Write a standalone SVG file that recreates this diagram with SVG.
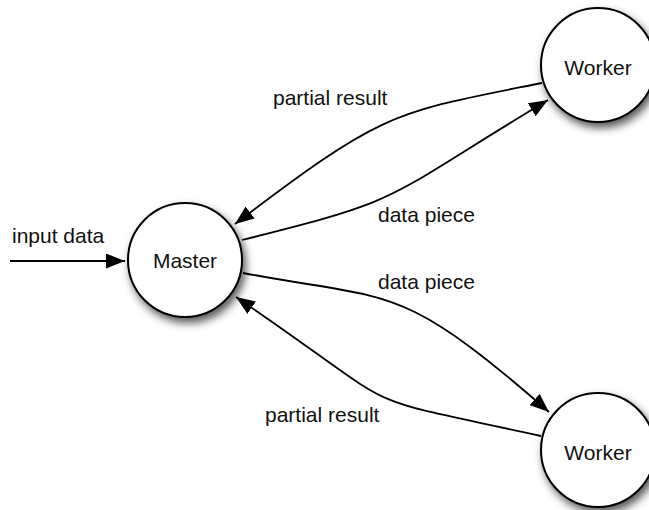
<svg xmlns="http://www.w3.org/2000/svg" width="649" height="510" viewBox="0 0 649 510">
  <style>
    .node circle { fill: #ffffff; stroke: #000000; stroke-width: 2; filter: url(#shadow); }
    .label { font-family: "Liberation Sans", Arial, Helvetica, sans-serif; font-size: 21px; fill: #111111; }
    .center { text-anchor: middle; }
    .edge { fill: none; stroke: #000000; stroke-width: 1.8; marker-end: url(#arrow); }
  </style>
  <defs>
    <filter id="shadow" x="-30%" y="-30%" width="170%" height="170%">
      <feDropShadow dx="3" dy="5" stdDeviation="4" flood-color="#000000" flood-opacity="0.65"/>
    </filter>
    <marker id="arrow" markerUnits="userSpaceOnUse" markerWidth="19" markerHeight="15" refX="19" refY="7.5" orient="auto">
      <path d="M0,0 L19,7.5 L0,15 z" fill="#000000"/>
    </marker>
  </defs>

  <!-- nodes -->
  <g id="master" class="node">
    <circle cx="185" cy="260" r="57"/>
    <text class="label center" x="185" y="268">Master</text>
  </g>
  <g id="worker-top" class="node">
    <circle cx="598" cy="65" r="57"/>
    <text class="label center" x="598" y="75">Worker</text>
  </g>
  <g id="worker-bottom" class="node">
    <circle cx="598" cy="450" r="57"/>
    <text class="label center" x="598" y="460">Worker</text>
  </g>

  <!-- connectors -->
  <g id="connectors">
    <path id="edge-input" class="edge" d="M10,261 L125,261"/>
    <path id="edge-result-top" class="edge" d="M542,83 C392,113 385,110 235,224"/>
    <path id="edge-piece-top" class="edge" d="M242,240 C412,197.5 378,202 548,100"/>
    <path id="edge-piece-bottom" class="edge" d="M243,273 C393,301.5 398,280 549,412"/>
    <path id="edge-result-bottom" class="edge" d="M541,436 C341,392 416,419.4 236,297"/>
  </g>

  <!-- connector labels -->
  <g id="edge-labels">
    <text class="label" x="12" y="243">input data</text>
    <text class="label" x="273" y="105">partial result</text>
    <text class="label" x="378" y="222">data piece</text>
    <text class="label" x="378" y="289">data piece</text>
    <text class="label" x="265" y="422">partial result</text>
  </g>
</svg>
